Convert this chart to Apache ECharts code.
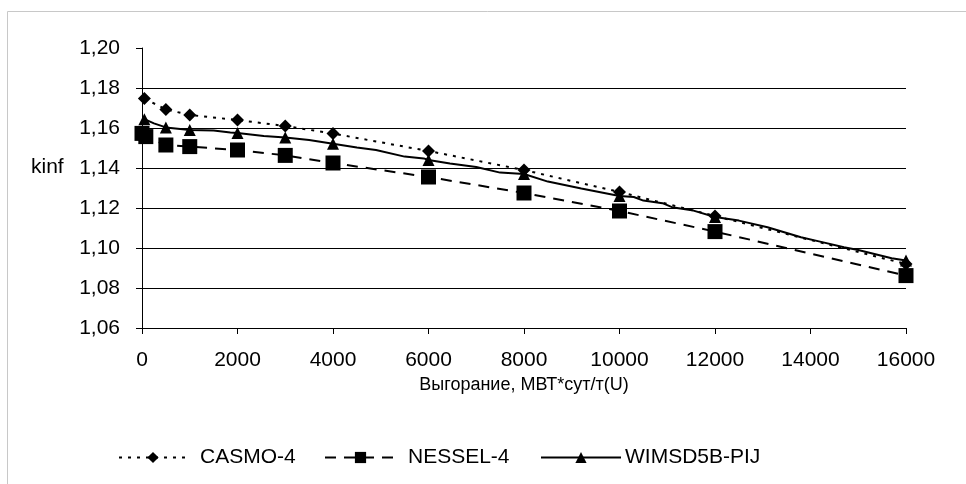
<!DOCTYPE html>
<html>
  <head>
    <meta charset="utf-8">
    <title>kinf</title>
    <script src="https://cdn.jsdelivr.net/npm/echarts@6/dist/echarts.min.js"></script>
  </head>
  <body style="margin:0">
    <div id="main" style="width: 966px;height:484px;"></div>
    <script type="text/javascript">
      // точки CASMO-4
      var casmoX = [50, 500, 1000, 2000, 3000, 4000, 6000, 8000, 10000, 12000, 16000]
      var casmoY = [1.1747, 1.1693, 1.1665, 1.164, 1.161, 1.1572, 1.1485, 1.139, 1.128, 1.116, 1.092]

      // точки NESSEL-4
      var nesselX = [0, 80, 500, 1000, 2000, 3000, 4000, 6000, 8000, 10000, 12000, 16000]
      var nesselY = [1.1573, 1.1557, 1.1515, 1.1507, 1.149, 1.1463, 1.1425, 1.1355, 1.1275, 1.1185, 1.1082, 1.0862]

      // WIMSD5B-PIJ: маркеры и сама кривая (кривая имеет больше узлов)
      var wimsdMarkX = [50, 500, 1000, 2000, 3000, 4000, 6000, 8000, 10000, 12000, 16000]
      var wimsdX = [50, 250, 500, 1000, 1500, 1850, 2000, 2550, 3000, 3500, 4000, 4500, 4900, 5500, 5900, 6000,
        6450, 7000, 7500, 8000, 8500, 9200, 10000, 10300, 10500, 10900, 11100, 11550, 12000, 12500, 13100,
        13800, 14200, 14700, 15000, 15700, 16000]
      var wimsdY = [1.1644, 1.1623, 1.1603, 1.159, 1.1587, 1.1577, 1.1575, 1.156, 1.1553, 1.154, 1.1521, 1.1503, 1.149, 1.1457, 1.1448, 1.144,
        1.1423, 1.1405, 1.1377, 1.137, 1.1332, 1.1298, 1.126, 1.1255, 1.1237, 1.1224, 1.1204, 1.1187, 1.1155, 1.1137, 1.1104,
        1.1054, 1.1032, 1.1004, 1.099, 1.0949, 1.0937]

      var yTicks = [1.06, 1.08, 1.10, 1.12, 1.14, 1.16, 1.18, 1.20]

      function pairs(xs, ys) {
        return xs.map((x, i) => [x, ys[i]])
      }

      var wimsdData = wimsdX.map((x, i) => {
        if (wimsdMarkX.indexOf(x) >= 0) return [x, wimsdY[i]]
        return { value: [x, wimsdY[i]], symbol: 'none' }
      })

      var myChart = echarts.init(document.getElementById('main'));

      var font = 'Liberation Sans, Arial, sans-serif'

      // каждая запись легенды отдельно, чтобы поставить её как в оригинале
      function legendItem(name, left, width, pad) {
        return {
          left: left,
          top: 447,
          padding: 0,
          itemWidth: width,
          itemHeight: 14,
          textStyle: { fontSize: 21, fontFamily: font, color: '#000', padding: [0, 0, 0, pad] },
          data: [name]
        }
      }

      var option = {
        animation: false,
        backgroundColor: '#fff',
        textStyle: { fontFamily: font, color: '#000' },
        graphic: [
          {
            type: 'rect',
            shape: { x: 7.5, y: 11.5, width: 1000, height: 600 },
            style: { fill: 'none', stroke: '#c8c8c8', lineWidth: 1 },
            silent: true
          },
          {
            type: 'text',
            left: 31,
            top: 157,
            style: { text: 'kinf', fontSize: 21, fontFamily: font, fill: '#000' }
          }
        ],
        grid: { left: 142, right: 60, top: 48, bottom: 156 },
        legend: [
          legendItem('CASMO-4', 118, 68, 8),
          legendItem('NESSEL-4', 324, 71, 7),
          legendItem('WIMSD5B-PIJ', 540, 80, -1)
        ],
        xAxis: {
          type: 'value',
          min: 0,
          max: 16000,
          interval: 2000,
          name: 'Выгорание, МВТ*сут/т(U)',
          nameLocation: 'middle',
          nameGap: 44,
          nameTextStyle: { fontSize: 18, fontFamily: font, color: '#000' },
          axisLine: { lineStyle: { color: '#000', width: 1 } },
          axisTick: { show: true, length: 6, lineStyle: { color: '#000' } },
          axisLabel: { fontSize: 21, color: '#000', margin: 22, formatter: v => String(v) },
          splitLine: { show: false }
        },
        yAxis: {
          type: 'value',
          min: yTicks[0],
          max: yTicks[yTicks.length - 1],
          interval: 0.02,
          axisLine: { show: true, lineStyle: { color: '#000', width: 1 } },
          axisTick: { show: true, length: 6, lineStyle: { color: '#000' } },
          axisLabel: {
            fontSize: 21,
            color: '#000',
            margin: 22,
            formatter: v => v.toFixed(2).replace('.', ',')
          },
          splitLine: {
            show: true,
            lineStyle: {
              width: 1,
              color: ['#000', '#000', '#000', '#000', '#000', '#000', '#000', 'rgba(0,0,0,0)']
            }
          }
        },
        series: [
          {
            name: 'CASMO-4',
            type: 'line',
            data: pairs(casmoX, casmoY),
            symbol: 'diamond',
            symbolSize: 13,
            showAllSymbol: true,
            itemStyle: { color: '#000' },
            lineStyle: { color: '#000', width: 2, type: [3, 6] },
            z: 3
          },
          {
            name: 'NESSEL-4',
            type: 'line',
            data: pairs(nesselX, nesselY),
            symbol: 'rect',
            symbolSize: 15,
            showAllSymbol: true,
            itemStyle: { color: '#000' },
            lineStyle: { color: '#000', width: 2, type: [11, 8] },
            z: 4
          },
          {
            name: 'WIMSD5B-PIJ',
            type: 'line',
            data: wimsdData,
            symbol: 'triangle',
            symbolSize: 12,
            showAllSymbol: true,
            itemStyle: { color: '#000' },
            lineStyle: { color: '#000', width: 2 },
            z: 5
          }
        ]
      };

      myChart.setOption(option);
    </script>
  </body>
</html>
